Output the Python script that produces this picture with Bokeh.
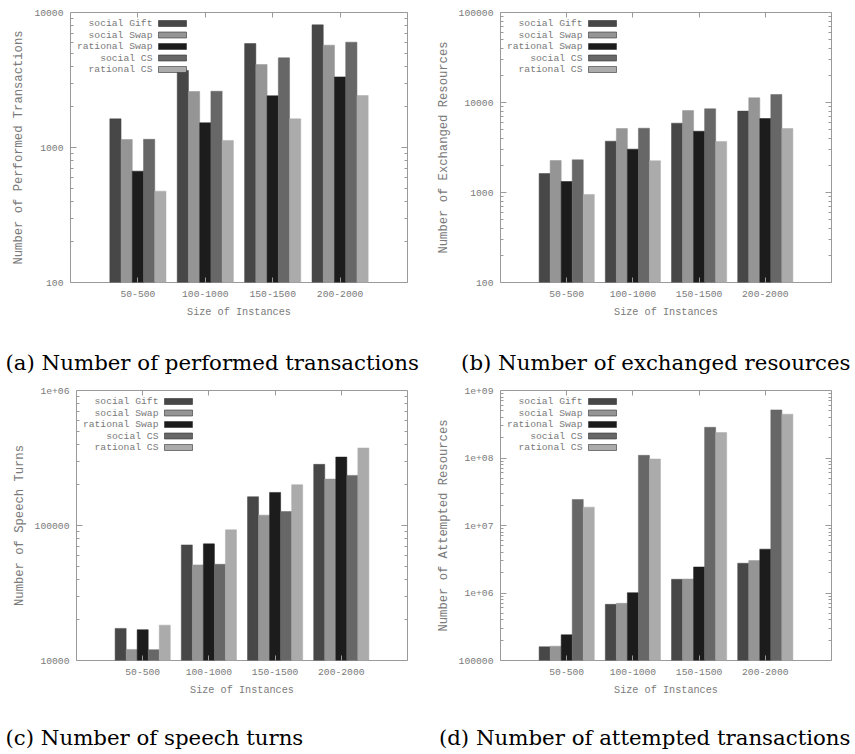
from bokeh.plotting import figure
from bokeh.models import (Range1d, FixedTicker, LogAxis, LinearAxis, Label,
                          BoxAnnotation, CustomJSTickFormatter, ColumnDataSource)
from bokeh.layouts import row, column
from bokeh.embed import file_html
from bokeh.resources import INLINE

categories = ["50-500", "100-1000", "150-1500", "200-2000"]
series_names = ["social Gift", "social Swap", "rational Swap", "social CS", "rational CS"]
series_colors = ["#474747", "#959595", "#1c1c1c", "#676767", "#ababab"]

# (a) Number of performed transactions
performed_social_gift = [1630, 3720, 5890, 8100]
performed_social_swap = [1146, 2600, 4120, 5730]
performed_rational_swap = [668, 1524, 2415, 3335]
performed_social_cs = [1150, 2610, 4617, 6030]
performed_rational_cs = [475, 1128, 1630, 2428]

# (b) Number of exchanged resources
exchanged_social_gift = [1626, 3717, 5890, 8020]
exchanged_social_swap = [2268, 5140, 8150, 11270]
exchanged_rational_swap = [1325, 3030, 4800, 6640]
exchanged_social_cs = [2305, 5180, 8510, 12280]
exchanged_rational_cs = [951, 2250, 3690, 5140]

# (c) Number of speech turns
speech_social_gift = [17290, 71800, 163300, 283800]
speech_social_swap = [12080, 51050, 119300, 220800]
speech_rational_swap = [16910, 73100, 175800, 321300]
speech_social_cs = [12030, 51600, 127000, 235100]
speech_rational_cs = [18280, 92900, 200500, 375200]

# (d) Number of attempted transactions
attempted_social_gift = [159600, 679000, 1596000, 2760000]
attempted_social_swap = [163000, 703000, 1610000, 3020000]
attempted_rational_swap = [240400, 1010000, 2430000, 4460000]
attempted_social_cs = [24300000, 109600000, 285000000, 516000000]
attempted_rational_cs = [18700000, 96700000, 238000000, 446000000]

a_ticks = [100, 1000, 10000]
a_tick_labels = ["100", "1000", "10000"]
b_ticks = [100, 1000, 10000, 100000]
b_tick_labels = ["100", "1000", "10000", "100000"]
c_ticks = [10000, 100000, 1000000]
c_tick_labels = ["10000", "100000", "1e+06"]
d_ticks = [100000, 1000000, 10000000, 100000000, 1000000000]
d_tick_labels = ["100000", "1e+06", "1e+07", "1e+08", "1e+09"]

x_title = "Size of Instances"
MONO = "Liberation Mono"
TXT = "#7a7a7a"
FRAME = "#9a9a9a"


def make_panel(values, ticks, tick_labels, ytitle, caption, cap_align, cap_offset, cap_gap,
               frame_w, left_pad, right_pad, top_pad, bottom_pad):
    ymin, ymax = ticks[0], ticks[-1]
    p = figure(frame_width=frame_w, frame_height=270,
               x_range=Range1d(-1, 4), y_range=Range1d(ymin, ymax),
               y_axis_type="log", output_backend="svg", toolbar_location=None,
               min_border_left=left_pad, min_border_right=right_pad,
               min_border_top=top_pad, min_border_bottom=bottom_pad,
               title_location="below")
    p.background_fill_color = "white"
    p.border_fill_color = "white"
    p.outline_line_color = FRAME
    p.outline_line_width = 1
    p.xgrid.visible = False
    p.ygrid.visible = False

    nb = len(values)
    for j, vals in enumerate(values):
        xs = [i + (j - (nb - 1) / 2) / 6 for i in range(len(categories))]
        src = ColumnDataSource(dict(x=xs, top=vals, bottom=[ymin] * len(vals)))
        p.vbar(x="x", top="top", bottom="bottom", width=1 / 6, source=src,
               fill_color=series_colors[j], line_color=series_colors[j], line_width=0.5)

    minor = []
    for t in ticks[:-1]:
        minor += [t * k for k in range(2, 10)]

    ya = p.yaxis[0]
    ya.ticker = FixedTicker(ticks=ticks, minor_ticks=minor)
    ya.major_label_overrides = {t: l for t, l in zip(ticks, tick_labels)}
    ya.axis_line_color = None
    ya.major_tick_in = 6
    ya.major_tick_out = 0
    ya.minor_tick_in = 3
    ya.minor_tick_out = 0
    ya.major_tick_line_color = FRAME
    ya.minor_tick_line_color = FRAME
    ya.major_label_text_font = MONO
    ya.major_label_text_font_size = "9.7px"
    ya.major_label_text_color = TXT
    ya.major_label_standoff = 7
    ya.axis_label = ytitle
    ya.axis_label_text_font = MONO
    ya.axis_label_text_font_size = "12.2px"
    ya.axis_label_text_font_style = "normal"
    ya.axis_label_text_color = TXT
    ya.axis_label_standoff = 5

    xa = p.xaxis[0]
    xa.ticker = FixedTicker(ticks=list(range(len(categories))))
    xa.major_label_overrides = {i: c for i, c in enumerate(categories)}
    xa.axis_line_color = None
    xa.major_tick_in = 5
    xa.major_tick_out = 0
    xa.minor_tick_line_color = None
    xa.major_tick_line_color = FRAME
    xa.major_label_text_font = MONO
    xa.major_label_text_font_size = "9.7px"
    xa.major_label_text_color = TXT
    xa.major_label_standoff = 8
    xa.axis_label = x_title
    xa.axis_label_text_font = MONO
    xa.axis_label_text_font_size = "10.2px"
    xa.axis_label_text_font_style = "normal"
    xa.axis_label_text_color = TXT
    xa.axis_label_standoff = 7

    empty = CustomJSTickFormatter(code="return ''")
    ra = LogAxis(ticker=FixedTicker(ticks=ticks, minor_ticks=minor), formatter=empty,
                 axis_line_color=None, major_tick_in=6, major_tick_out=0,
                 minor_tick_in=3, minor_tick_out=0, major_tick_line_color=FRAME,
                 minor_tick_line_color=FRAME, major_label_text_font_size="0px",
                 major_label_standoff=0)
    p.add_layout(ra, "right")
    ta = LinearAxis(ticker=FixedTicker(ticks=list(range(len(categories)))), formatter=empty,
                    axis_line_color=None, major_tick_in=5, major_tick_out=0,
                    minor_tick_line_color=None, major_tick_line_color=FRAME,
                    major_label_text_font_size="0px", major_label_standoff=0)
    p.add_layout(ta, "above")

    # invisible spacer between the axis title and the sub-figure caption
    spacer = LinearAxis(ticker=FixedTicker(ticks=[]), axis_line_color=None,
                        major_tick_in=0, major_tick_out=0, minor_tick_in=0, minor_tick_out=0,
                        major_label_standoff=0, major_label_text_font_size="0px",
                        axis_label=" ", axis_label_standoff=cap_gap,
                        axis_label_text_font_size="1px", axis_label_text_alpha=0)
    p.add_layout(spacer, "below")

    # gnuplot-style key: label left of the sample box
    for k, name in enumerate(series_names):
        yk = 259 - k * 11.5
        p.add_layout(Label(x=82, y=yk, x_units="screen", y_units="screen", text=name,
                           text_align="right", text_baseline="middle", text_font=MONO,
                           text_font_size="9.7px", text_color=TXT))
        p.add_layout(BoxAnnotation(left=88, right=116, bottom=yk - 3, top=yk + 3,
                                   left_units="screen", right_units="screen",
                                   top_units="screen", bottom_units="screen",
                                   fill_color=series_colors[k], fill_alpha=1,
                                   line_color="#333333", line_width=0.6, line_alpha=1))

    # sub-figure caption (LaTeX style)
    p.title.text = caption
    p.title.text_font = "DejaVu Serif"
    p.title.text_font_size = "21.3px"
    p.title.text_font_style = "normal"
    p.title.text_color = "black"
    p.title.align = cap_align
    p.title.offset = cap_offset
    p.title.standoff = 4
    return p


pa = make_panel([performed_social_gift, performed_social_swap, performed_rational_swap,
                 performed_social_cs, performed_rational_cs],
                a_ticks, a_tick_labels, "Number of Performed Transactions",
                "(a) Number of performed transactions", "left", -65, 21,
                337, 70, 18, 12, 93)
pb = make_panel([exchanged_social_gift, exchanged_social_swap, exchanged_rational_swap,
                 exchanged_social_cs, exchanged_rational_cs],
                b_ticks, b_tick_labels, "Number of Exchanged Resources",
                "(b) Number of exchanged resources", "right", -19, 21,
                331, 75, 23, 12, 93)
pc = make_panel([speech_social_gift, speech_social_swap, speech_rational_swap,
                 speech_social_cs, speech_rational_cs],
                c_ticks, c_tick_labels, "Number of Speech Turns",
                "(c) Number of speech turns", "left", -71, 18,
                331, 76, 18, 14, 88)
pd = make_panel([attempted_social_gift, attempted_social_swap, attempted_rational_swap,
                 attempted_social_cs, attempted_rational_cs],
                d_ticks, d_tick_labels, "Number of Attempted Resources",
                "(d) Number of attempted transactions", "right", -19, 18,
                331, 75, 23, 14, 88)

layout = column(row(pa, pb), row(pc, pd))
open("out.html", "w").write(file_html(layout, INLINE))
